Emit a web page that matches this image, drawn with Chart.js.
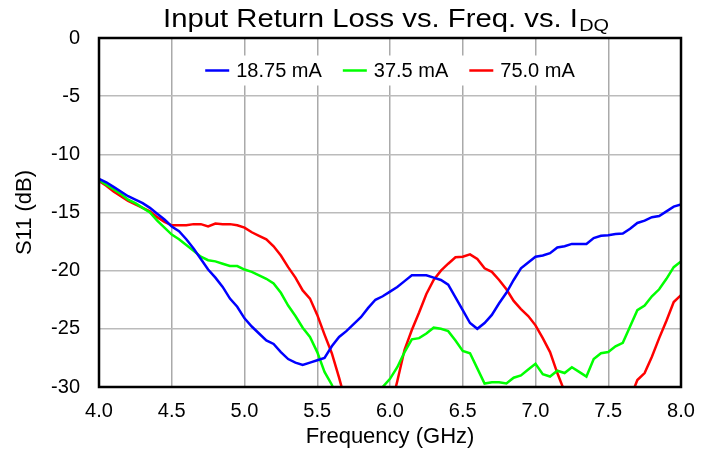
<!DOCTYPE html>
<html>
<head>
<meta charset="utf-8">
<title>Input Return Loss vs. Freq. vs. IDQ</title>
<script src="https://cdn.jsdelivr.net/npm/chart.js@4/dist/chart.umd.min.js"></script>
<style>
  html, body { margin: 0; padding: 0; background: #fff; }
</style>
</head>
<body>
<canvas id="s11Chart" width="711" height="452"></canvas>
<script>
// frequency sweep, GHz
var freqGHz = [
  4.00, 4.05, 4.10, 4.15, 4.20, 4.25, 4.30, 4.35, 4.40, 4.45,
  4.50, 4.55, 4.60, 4.65, 4.70, 4.75, 4.80, 4.85, 4.90, 4.95,
  5.00, 5.05, 5.10, 5.15, 5.20, 5.25, 5.30, 5.35, 5.40, 5.45,
  5.50, 5.55, 5.60, 5.65, 5.70, 5.75, 5.80, 5.85, 5.90, 5.95,
  6.00, 6.05, 6.10, 6.15, 6.20, 6.25, 6.30, 6.35, 6.40, 6.45,
  6.50, 6.55, 6.60, 6.65, 6.70, 6.75, 6.80, 6.85, 6.90, 6.95,
  7.00, 7.05, 7.10, 7.15, 7.20, 7.25, 7.30, 7.35, 7.40, 7.45,
  7.50, 7.55, 7.60, 7.65, 7.70, 7.75, 7.80, 7.85, 7.90, 7.95,
  8.00
];

// S11 in dB for each quiescent drain current
var s11At18p75mA = [
  -12.1, -12.4, -12.8, -13.2, -13.6, -13.9, -14.2, -14.6, -15.1, -15.6,
  -16.2, -16.6, -17.3, -18.1, -19.0, -19.9, -20.6, -21.4, -22.4, -23.1,
  -24.1, -24.8, -25.4, -26.0, -26.3, -27.0, -27.6, -27.9, -28.1, -27.9,
  -27.7, -27.5, -26.5, -25.7, -25.2, -24.6, -24.0, -23.2, -22.5, -22.2,
  -21.8, -21.4, -20.9, -20.4, -20.4, -20.4, -20.6, -20.8, -21.2, -22.3,
  -23.4, -24.5, -25.0, -24.5, -23.8, -22.8, -21.9, -20.8, -19.8, -19.3,
  -18.8, -18.7, -18.5, -18.0, -17.9, -17.7, -17.7, -17.7, -17.2, -17.0,
  -16.95, -16.85, -16.8, -16.4, -15.9, -15.7, -15.4, -15.3, -14.9, -14.5,
  -14.3
];
var s11At37p5mA = [
  -12.2, -12.6, -13.0, -13.4, -13.9, -14.2, -14.6, -15.0, -15.7, -16.3,
  -16.9, -17.3, -17.8, -18.3, -18.8, -19.1, -19.2, -19.4, -19.6, -19.6,
  -19.9, -20.1, -20.4, -20.7, -21.1, -21.9, -23.0, -23.9, -24.9, -25.7,
  -27.0, -28.7, -29.8, -31.5, -33.0, -34.0, -34.5, -33.5, -31.5, -30.0,
  -29.3, -28.3, -27.0, -25.9, -25.8, -25.4, -24.9, -25.0, -25.2, -26.0,
  -26.9, -27.1, -28.4, -29.7, -29.6, -29.6, -29.7, -29.2, -29.0, -28.5,
  -28.0, -28.9, -29.1, -28.6, -28.8, -28.3, -28.7, -29.1, -27.6, -27.1,
  -27.0, -26.5, -26.2, -24.8, -23.4, -23.0, -22.2, -21.6, -20.7, -19.7,
  -19.2
];
var s11At75p0mA = [
  -12.3, -12.7, -13.2, -13.6, -14.0, -14.3, -14.6, -14.9, -15.4, -15.8,
  -16.1, -16.1, -16.1, -16.0, -16.0, -16.2, -15.95, -16.0, -16.0, -16.1,
  -16.3, -16.7, -17.0, -17.3, -17.9, -18.7, -19.7, -20.6, -21.7, -22.4,
  -23.8, -25.5, -27.1, -29.2, -31.5, -34.0, -36.0, -37.0, -36.5, -34.5,
  -32.0, -29.5, -26.8, -25.1, -23.6, -22.0, -20.8, -20.0, -19.4, -18.85,
  -18.8, -18.6, -19.0, -19.8, -20.1, -20.8, -21.6, -22.6, -23.3, -23.9,
  -24.7, -25.8, -27.0, -28.8, -30.4, -32.5, -34.0, -35.0, -35.5, -35.5,
  -35.0, -34.0, -32.5, -31.0, -29.4, -28.8, -27.4, -25.8, -24.3, -22.7,
  -22.1
];

var seriesNames = ['18.75 mA', '37.5 mA', '75.0 mA'];
var seriesColors = ['#0000ff', '#00ff00', '#ff0000'];

var FONT = '"Liberation Sans", Arial, Helvetica, sans-serif';

function toPoints(values) {
  return freqGHz.map(function (f, i) { return { x: f, y: values[i] }; });
}

function makeSet(idx, values) {
  return {
    label: seriesNames[idx],
    data: toPoints(values),
    borderColor: seriesColors[idx],
    backgroundColor: seriesColors[idx],
    borderWidth: 2.5,
    pointRadius: 0,
    tension: 0,
    clip: 0
  };
}

// title with subscript, slightly widened like the plot's lettering
var titlePlugin = {
  id: 'subTitle',
  afterDraw: function (chart) {
    var ctx = chart.ctx;
    var main = 'Input Return Loss vs. Freq. vs. I';
    var sub = 'DQ';
    ctx.save();
    ctx.font = '25px ' + FONT;
    var wMain = ctx.measureText(main).width;
    ctx.font = '17px ' + FONT;
    var wSub = ctx.measureText(sub).width;
    var total = wMain + wSub + 1;
    var sx = 446 / total;
    var cx = 386;
    ctx.translate(cx - 446 / 2, 0);
    ctx.scale(sx, 1);
    ctx.fillStyle = '#000';
    ctx.textBaseline = 'alphabetic';
    ctx.textAlign = 'left';
    ctx.font = '25px ' + FONT;
    ctx.fillText(main, 0, 27);
    ctx.font = '17px ' + FONT;
    ctx.fillText(sub, wMain + 1, 31);
    ctx.restore();
  }
};

// in-plot legend on a white strip, then the plot frame
var framePlugin = {
  id: 'frame',
  afterDatasetsDraw: function (chart) {
    var ctx = chart.ctx;
    var a = chart.chartArea;
    var sets = chart.data.datasets;
    var lineLen = 24, gap = 7, itemGap = 21, midY = 70.5;
    ctx.save();
    ctx.font = '20px ' + FONT;
    var widths = sets.map(function (ds) { return ctx.measureText(ds.label).width; });
    var total = widths.reduce(function (s, w) { return s + lineLen + gap + w; }, 0) + itemGap * (sets.length - 1);
    var x = (a.left + a.right) / 2 - total / 2;
    ctx.fillStyle = '#ffffff';
    ctx.fillRect(x - 8, midY - 15, total + 16, 30);
    ctx.textBaseline = 'middle';
    ctx.textAlign = 'left';
    sets.forEach(function (ds, i) {
      ctx.strokeStyle = ds.borderColor;
      ctx.lineWidth = 2.5;
      ctx.beginPath();
      ctx.moveTo(x, midY);
      ctx.lineTo(x + lineLen, midY);
      ctx.stroke();
      ctx.fillStyle = '#000';
      ctx.fillText(ds.label, x + lineLen + gap, midY + 1);
      x += lineLen + gap + widths[i] + itemGap;
    });
    ctx.strokeStyle = '#000';
    ctx.lineWidth = 2.5;
    ctx.strokeRect(a.left, a.top, a.right - a.left, a.bottom - a.top);
    ctx.restore();
  }
};

new Chart(document.getElementById('s11Chart'), {
  type: 'line',
  data: {
    datasets: [
      makeSet(0, s11At18p75mA),
      makeSet(1, s11At37p5mA),
      makeSet(2, s11At75p0mA)
    ]
  },
  options: {
    responsive: false,
    animation: false,
    layout: { padding: { top: 38, right: 30, left: 0, bottom: 0 } },
    plugins: {
      title: { display: false },
      tooltip: { enabled: false },
      legend: { display: false }
    },
    scales: {
      x: {
        type: 'linear',
        min: 4,
        max: 8,
        afterFit: function (s) { s.height = 65; },
        ticks: {
          stepSize: 0.5,
          padding: 12,
          color: '#000',
          font: { family: FONT, size: 20 },
          maxRotation: 0,
          callback: function (v) { return v.toFixed(1); }
        },
        grid: { color: '#aaaaaa', lineWidth: 1.5, drawTicks: false },
        border: { display: false },
        title: {
          display: true,
          text: 'Frequency (GHz)',
          color: '#000',
          font: { family: FONT, size: 22 },
          padding: { top: 0, bottom: 2 }
        }
      },
      y: {
        min: -30,
        max: 0,
        afterFit: function (s) { s.width = 99; },
        ticks: {
          stepSize: 5,
          padding: 19,
          color: '#000',
          font: { family: FONT, size: 20 }
        },
        grid: { color: '#bbbbbb', lineWidth: 1.5, drawTicks: false },
        border: { display: false },
        title: {
          display: true,
          text: 'S11 (dB)',
          color: '#000',
          font: { family: FONT, size: 22 },
          padding: { top: 12, bottom: 0 }
        }
      }
    }
  },
  plugins: [titlePlugin, framePlugin]
});
</script>
</body>
</html>
